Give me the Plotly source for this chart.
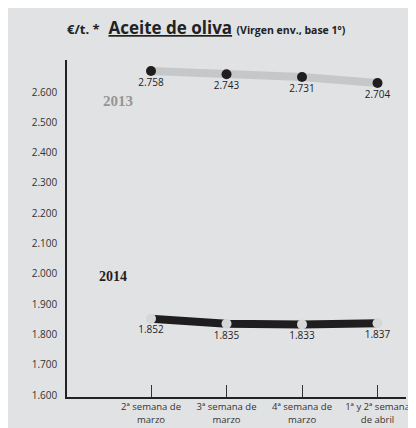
import plotly.graph_objects as go

categories = ["2ª semana de<br>marzo", "3ª semana de<br>marzo", "4ª semana de<br>marzo", "1ª y 2ª semana<br>de abril"]
values_2013 = [2758, 2743, 2731, 2704]
values_2014 = [1852, 1835, 1833, 1837]
y_ticks = [1600, 1700, 1800, 1900, 2000, 2100, 2200, 2300, 2400, 2500, 2600]

def fmt(v):
    return f"{v:,}".replace(",", ".")

xpos = list(range(len(categories)))
FONT = "Open Sans"
BG = "#e1e2e4"

fig = go.Figure()

fig.add_trace(go.Scatter(
    x=xpos, y=values_2013, yaxis="y2",
    mode="lines+markers+text",
    line=dict(color="#c6c7c9", width=8),
    marker=dict(color="#1f1d1e", size=10),
    text=[fmt(v) for v in values_2013],
    textposition="bottom center",
    textfont=dict(family=FONT, size=10, color="#222"),
    showlegend=False, cliponaxis=False,
))

fig.add_trace(go.Scatter(
    x=xpos, y=values_2014,
    mode="lines+markers+text",
    line=dict(color="#1f1d1e", width=8),
    marker=dict(color="#d6d7d9", size=10),
    text=[fmt(v) for v in values_2014],
    textposition="bottom center",
    textfont=dict(family=FONT, size=10, color="#222"),
    showlegend=False, cliponaxis=False,
))

# the page body adds an 8px offset, so margins are shifted by 8px
fig.update_layout(
    width=416, height=428,
    margin=dict(l=59, r=18, t=52, b=39, autoexpand=False),
    paper_bgcolor=BG,
    plot_bgcolor="rgba(0,0,0,0)",
    font=dict(family=FONT, color="#333"),
    xaxis=dict(
        range=[-1.1126, 3.377],
        tickvals=xpos, ticktext=categories,
        tickangle=0,
        ticks="inside", ticklen=12, tickwidth=1, tickcolor="#333",
        showline=True, linecolor="#222", linewidth=1.5,
        showgrid=False, zeroline=False,
        tickfont=dict(family=FONT, size=9.5, color="#333"),
    ),
    yaxis=dict(
        range=[1593.4, 2705.6],
        tickvals=y_ticks, ticktext=[fmt(v) for v in y_ticks],
        ticks="", showline=True, linecolor="#222", linewidth=1.5,
        showgrid=False, zeroline=False,
        ticklabelstandoff=6,
        tickfont=dict(family=FONT, size=10, color="#333"),
    ),
    yaxis2=dict(
        range=[1291, 2807.5], overlaying="y", visible=False,
    ),
    annotations=[
        dict(
            xref="paper", yref="paper", x=(206.5 - 67) / 339, y=(397 - 27) / 337,
            text="<span style='font-size:13px'><b>€/t. *</b></span>  <b><u>Aceite de oliva</u></b> "
                 "<span style='font-size:10.5px'><b>(Virgen env., base 1º)</b></span>",
            showarrow=False, xanchor="center", yanchor="middle",
            font=dict(family=FONT, size=17, color="#222"),
        ),
        dict(
            xref="paper", yref="paper", x=(101 - 67) / 339, y=(397 - 101) / 337,
            text="<b>2013</b>", showarrow=False, xanchor="left", yanchor="middle",
            font=dict(family="Liberation Serif", size=15, color="#959595"),
        ),
        dict(
            xref="paper", yref="paper", x=(97 - 67) / 339, y=(397 - 276) / 337,
            text="<b>2014</b>", showarrow=False, xanchor="left", yanchor="middle",
            font=dict(family="Liberation Serif", size=14, color="#1f1d1e"),
        ),
    ],
)

fig.write_html("out.html")
